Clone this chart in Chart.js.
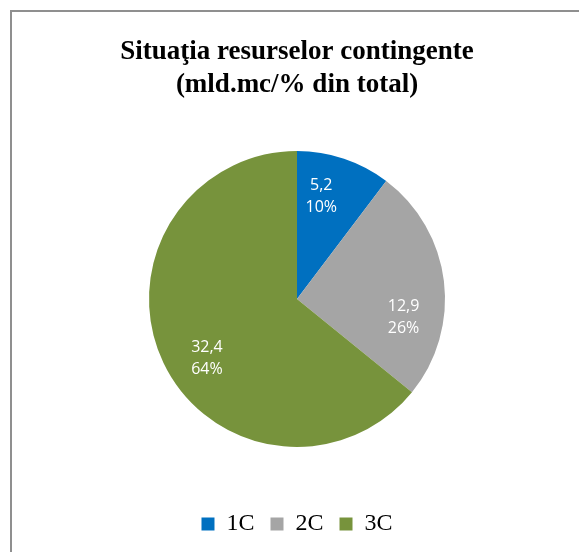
<!DOCTYPE html>
<html><head><meta charset="utf-8">
<script src="https://cdn.jsdelivr.net/npm/chart.js@4/dist/chart.umd.min.js"></script>
<style>
html,body{margin:0;padding:0;background:#fff;overflow:hidden}
#frame{position:absolute;left:10px;top:10px;width:640px;height:640px;border:2px solid #8f8f8f;}
#wrap{position:absolute;left:0;top:0;width:579px;height:552px}
</style></head><body>
<div id="frame"></div>
<div id="wrap"><canvas id="c" width="579" height="552"></canvas></div>
<script>
const categories = ['1C', '2C', '3C'];
const values = [5.2, 12.9, 32.4];
const percentLabels = ['10%', '26%', '64%'];
const colors = ['#0070C0', '#A5A5A5', '#77933C'];
const titleLines = ['Situaţia resurselor contingente', '(mld.mc/% din total)'];

const valueText = values.map(v => v.toFixed(1).replace('.', ','));

const sliceLabels = {
  id: 'sliceLabels',
  afterDatasetsDraw(chart, args, opts) {
    const meta = chart.getDatasetMeta(0);
    const ctx = chart.ctx;
    ctx.save();
    ctx.font = opts.font;
    ctx.fillStyle = opts.color;
    ctx.textAlign = 'center';
    ctx.textBaseline = 'middle';
    meta.data.forEach((arc, i) => {
      const p = arc.getProps(['x', 'y', 'startAngle', 'endAngle', 'outerRadius'], true);
      const a = p.startAngle + (p.endAngle - p.startAngle) * opts.angleFrac[i];
      const r = p.outerRadius * opts.radiusFrac[i];
      const cx = p.x + Math.cos(a) * r, cy = p.y + Math.sin(a) * r;
      ctx.fillText(valueText[i], cx, cy - opts.lineGap / 2);
      ctx.fillText(percentLabels[i], cx, cy + opts.lineGap / 2);
    });
    ctx.restore();
  }
};

new Chart(document.getElementById('c'), {
  type: 'pie',
  data: {
    labels: categories,
    datasets: [{
      data: values,
      backgroundColor: colors,
      borderWidth: 0,
      radius: 148
    }]
  },
  options: {
    responsive: false,
    animation: false,
    layout: { padding: { left: 15, right: 0, top: 0, bottom: 6 } },
    plugins: {
      title: {
        display: true,
        text: titleLines,
        color: '#000',
        font: { family: 'Liberation Serif', size: 27, weight: 'bold', lineHeight: 33 / 27 },
        padding: { top: 36, bottom: 0 }
      },
      legend: {
        position: 'bottom',
        labels: {
          color: '#000',
          font: { family: 'Liberation Serif', size: 24 },
          boxWidth: 13,
          boxHeight: 13,
          padding: 16
        }
      },
      tooltip: { enabled: false },
      sliceLabels: {
        font: '16px "Open Sans"',
        color: '#ffffff',
        angleFrac: [0.36, 0.68, 0.465],
        radiusFrac: [0.71, 0.73, 0.73],
        lineGap: 22
      }
    }
  },
  plugins: [sliceLabels]
});
</script>
</body></html>
